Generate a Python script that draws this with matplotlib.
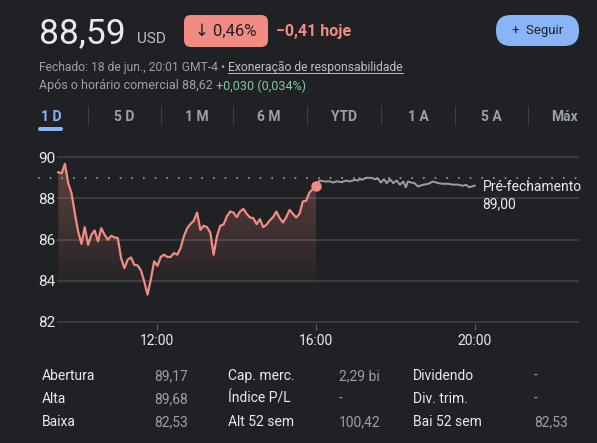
import matplotlib.pyplot as plt
import matplotlib.transforms as mtransforms
from matplotlib.patches import FancyBboxPatch, Polygon
import numpy as np

# regular session, 5-minute points
market_times = [
    "09:30", "09:35", "09:40", "09:45", "09:50", "09:55",
    "10:00", "10:05", "10:10", "10:15", "10:20", "10:25", "10:30", "10:35", "10:40", "10:45", "10:50", "10:55",
    "11:00", "11:05", "11:10", "11:15", "11:20", "11:25", "11:30", "11:35", "11:40", "11:45", "11:50", "11:55",
    "12:00", "12:05", "12:10", "12:15", "12:20", "12:25", "12:30", "12:35", "12:40", "12:45", "12:50", "12:55",
    "13:00", "13:05", "13:10", "13:15", "13:20", "13:25", "13:30", "13:35", "13:40", "13:45", "13:50", "13:55",
    "14:00", "14:05", "14:10", "14:15", "14:20", "14:25", "14:30", "14:35", "14:40", "14:45", "14:50", "14:55",
    "15:00", "15:05", "15:10", "15:15", "15:20", "15:25", "15:30", "15:35", "15:40", "15:45", "15:50", "15:55",
    "16:00",
]
market_prices = [
    89.27, 89.22, 89.68, 88.74, 88.25, 87.28,
    86.39, 85.79, 86.60, 85.74, 86.23, 86.44, 85.91, 86.55, 86.23, 85.99, 86.18, 86.10,
    86.07, 85.10, 84.61, 85.02, 85.13, 84.77, 84.74, 84.50, 83.96, 83.32, 84.05, 84.94,
    84.72, 85.15, 85.26, 85.15, 85.15, 85.34, 85.26, 85.58, 86.15, 86.55, 86.76, 86.91,
    87.31, 86.47, 86.67, 86.60, 86.34, 85.26, 86.15, 86.67, 86.72, 87.12, 87.36, 87.31,
    87.09, 87.36, 87.49, 87.25, 87.07, 87.04, 86.75, 86.99, 86.60, 86.72, 86.93, 87.09,
    87.36, 87.04, 86.83, 87.09, 87.44, 87.25, 87.07, 87.25, 87.85, 87.88, 88.28, 88.45,
    88.59,
]

# after hours
after_times = [
    "16:00", "16:05", "16:14", "16:21", "16:26", "16:31", "16:39", "16:46", "16:51", "16:59",
    "17:04", "17:06", "17:09", "17:16", "17:24", "17:29", "17:34", "17:38", "17:43", "17:47",
    "17:52", "17:57", "18:02", "18:07", "18:12", "18:16", "18:19", "18:24", "18:29", "18:34",
    "18:42", "18:50", "18:57", "19:05", "19:12", "19:20", "19:27", "19:35", "19:42", "19:47",
    "19:52", "20:00",
]
after_prices = [
    88.59, 88.87, 88.82, 88.83, 88.77, 88.83, 88.79, 88.87, 88.82, 88.90,
    88.87, 88.98, 88.90, 89.00, 89.00, 88.93, 88.96, 88.77, 88.93, 88.74,
    88.93, 88.74, 88.87, 88.66, 88.82, 88.54, 88.82, 88.77, 88.74, 88.58,
    88.66, 88.71, 88.82, 88.74, 88.71, 88.71, 88.67, 88.67, 88.61, 88.66,
    88.54, 88.62,
]

prev_close = 89.00
y_ticks = [82, 84, 86, 88, 90]
x_ticks = [12, 16, 20]
x_tick_labels = ["12:00", "16:00", "20:00"]

tabs = ["1 D", "5 D", "1 M", "6 M", "YTD", "1 A", "5 A", "Máx"]

stat_labels = [["Abertura", "Alta", "Baixa"],
               ["Cap. merc.", "Índice P/L", "Alt 52 sem"],
               ["Dividendo", "Div. trim.", "Bai 52 sem"]]
stat_values = [["89,17", "89,68", "82,53"],
               ["2,29 bi", "-", "100,42"],
               ["-", "-", "82,53"]]

BG = "#202124"
GRID = "#3c4043"
RED = "#f28b82"
GREY = "#9aa0a6"
LIGHT = "#e8eaed"
BLUE = "#8ab4f8"
GREEN = "#81c995"

plt.rcParams['font.family'] = ['Roboto', 'DejaVu Sans']

W, H = 597, 443


def to_hours(t):
    h, m = t.split(":")
    return int(h) + int(m) / 60


fig = plt.figure(figsize=(W / 100, H / 100), dpi=100, facecolor=BG)
renderer = fig.canvas.get_renderer()
# pixel coordinates, origin top-left
px = mtransforms.Affine2D().scale(1 / W, -1 / H).translate(0, 1) + fig.transFigure


def text_run(x, y, parts, size):
    """write pieces of text one after another on the same line"""
    for s, color in parts:
        t = fig.text(x, y, s, transform=px, fontsize=size, color=color, va="center")
        x += t.get_window_extent(renderer).width
    return x


# ---- header ----
fig.text(39, 43, "88,59", transform=px, fontsize=25.5, color=LIGHT, va="baseline")
fig.text(137, 43, "USD", transform=px, fontsize=11, color="#bdc1c6", va="baseline")
fig.patches.append(FancyBboxPatch((184, 15), 84, 32, boxstyle="round,pad=0,rounding_size=7",
                                  transform=px, facecolor=RED, edgecolor="none"))
fig.text(226, 31.5, "↓ 0,46%", transform=px, fontsize=12, color=BG, ha="center", va="center")
fig.text(276, 31.5, "−0,41 hoje", transform=px, fontsize=11.5, color=RED, fontweight="bold",
         va="center")
fig.patches.append(FancyBboxPatch((496, 15), 83, 31, boxstyle="round,pad=0,rounding_size=15",
                                  transform=px, facecolor=BLUE, edgecolor="none"))
fig.text(537.5, 30.5, "+  Seguir", transform=px, fontsize=9.5, color=BG, ha="center", va="center")

x_disc = text_run(39, 67, [("Fechado: 18 de jun., 20:01 GMT-4 • ", GREY)], 8.75)
x_end = text_run(x_disc, 67, [("Exoneração de responsabilidade", "#bdc1c6")], 8.75)
fig.lines.append(plt.Line2D([x_disc, x_end], [73.5, 73.5], transform=px, color="#bdc1c6", lw=0.7))
text_run(39, 86, [("Após o horário comercial 88,62 ", GREY), ("+0,030 (0,034%)", GREEN)], 9)

# tabs
tab_centers = [51, 124, 197, 269, 344, 418, 491, 565]
for i, (name, cx) in enumerate(zip(tabs, tab_centers)):
    fig.text(cx, 117, name, transform=px, fontsize=10, fontweight="bold",
             color=BLUE if i == 0 else GREY, ha="center", va="center")
    if i > 0:
        sep = (tab_centers[i - 1] + cx) / 2
        fig.lines.append(plt.Line2D([sep, sep], [106, 124], transform=px, color=GRID, lw=0.8))
fig.patches.append(FancyBboxPatch((38, 127), 25, 4, boxstyle="round,pad=0,rounding_size=2",
                                  transform=px, facecolor=BLUE, edgecolor="none"))

# ---- chart ----
x0, x1 = 57, 579.3
y_top, y_bot = 155.2, 323.8
ax = fig.add_axes([x0 / W, 1 - y_bot / H, (x1 - x0) / W, (y_bot - y_top) / H])
ax.set_facecolor(BG)
ax.set_xlim(9.467, 22.64)
ax.set_ylim(81.9, 90.1)
for s in ax.spines.values():
    s.set_visible(False)

mx = [to_hours(t) for t in market_times]
ah = [to_hours(t) for t in after_times]

ax.set_yticks(y_ticks)
ax.set_yticklabels([str(v) for v in y_ticks])
ax.tick_params(axis="y", length=0, pad=13.7, labelsize=11, labelcolor=LIGHT)
for lab in ax.get_yticklabels():
    lab.set_horizontalalignment("left")
ax.set_xticks(x_ticks)
ax.set_xticklabels(x_tick_labels)
ax.tick_params(axis="x", length=4.5, width=0.8, color="#5f6368", pad=2.5,
               labelsize=10, labelcolor=LIGHT)
ax.grid(axis="y", color=GRID, lw=1.3)
ax.set_axisbelow(True)

# previous close dotted line, starts under the y labels
ax.axhline(prev_close, xmin=-(x0 - 38) / (x1 - x0), xmax=1, color=GREY,
           lw=1.2, linestyle=(0, (1, 6)), clip_on=False)

# gradient fill under the regular session
fill_bottom = 83.9
verts = list(zip(mx, market_prices)) + [(mx[-1], fill_bottom), (mx[0], fill_bottom)]
poly = Polygon(verts, closed=True, facecolor="none", edgecolor="none")
ax.add_patch(poly)
grad = np.zeros((100, 1, 4))
grad[..., 0] = 0.95
grad[..., 1] = 0.55
grad[..., 2] = 0.51
grad[:, 0, 3] = np.linspace(0.30, 0.03, 100)
img = ax.imshow(grad, extent=[mx[0], mx[-1], fill_bottom, max(market_prices)],
                origin="upper", aspect="auto", zorder=1)
img.set_clip_path(poly)

ax.plot(ah, after_prices, color=GREY, lw=1.4, zorder=2, solid_joinstyle="round")
ax.plot(mx, market_prices, color=RED, lw=1.6, zorder=3, solid_joinstyle="round")
ax.plot(mx[-1], market_prices[-1], "o", color=RED, markersize=6.5, zorder=4)

ax.text(20.2, 88.56, "Pré-fechamento", fontsize=10, color=LIGHT, va="center")
ax.text(20.2, 87.73, "89,00", fontsize=10, color=LIGHT, va="center")

# ---- stats table ----
col_label_x = [42, 228, 413]
col_value_x = [154, 339, 534]
row_y = [376, 399, 422]
for c in range(3):
    for r in range(3):
        fig.text(col_label_x[c], row_y[r], stat_labels[c][r], transform=px, fontsize=10,
                 color=LIGHT, va="center")
        fig.text(col_value_x[c], row_y[r], stat_values[c][r], transform=px, fontsize=10,
                 color=GREY, va="center")

fig.savefig("out.png", dpi=100, facecolor=BG)
